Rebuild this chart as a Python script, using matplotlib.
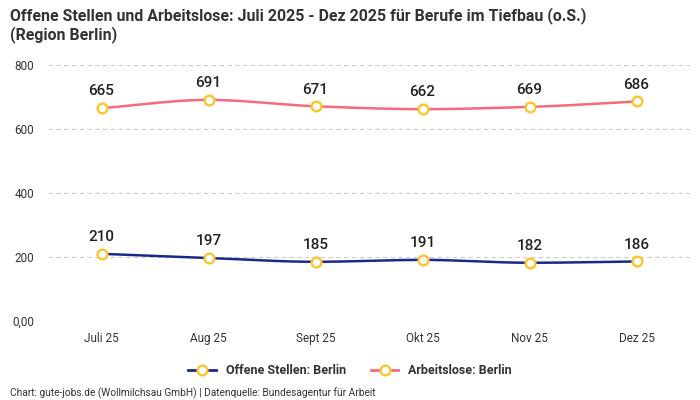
import numpy as np
import matplotlib
matplotlib.use("Agg")
import matplotlib.pyplot as plt
from matplotlib.lines import Line2D

plt.rcParams['font.family'] = ['Roboto', 'DejaVu Sans']

months = ["Juli 25", "Aug 25", "Sept 25", "Okt 25", "Nov 25", "Dez 25"]
offene_stellen = [210, 197, 185, 191, 182, 186]
arbeitslose = [665, 691, 671, 662, 669, 686]

blue = "#1b2a8a"
pink = "#f7697f"
marker_edge = "#fbc52c"


def smooth(xs, ys, n=30):
    # monotone cubic (Fritsch-Carlson) for the drawn curve
    xs = np.asarray(xs, float)
    ys = np.asarray(ys, float)
    h = np.diff(xs)
    d = np.diff(ys) / h
    m = np.zeros_like(ys)
    m[0], m[-1] = d[0], d[-1]
    for i in range(1, len(ys) - 1):
        if d[i - 1] * d[i] <= 0:
            m[i] = 0
        else:
            m[i] = 2 / (1 / d[i - 1] + 1 / d[i])
    out_x, out_y = [], []
    for i in range(len(xs) - 1):
        t = np.linspace(0, 1, n)
        h00 = 2 * t**3 - 3 * t**2 + 1
        h10 = t**3 - 2 * t**2 + t
        h01 = -2 * t**3 + 3 * t**2
        h11 = t**3 - t**2
        out_x.extend(xs[i] + t * h[i])
        out_y.extend(h00 * ys[i] + h10 * h[i] * m[i] + h01 * ys[i + 1] + h11 * h[i] * m[i + 1])
    return out_x, out_y


fig = plt.figure(figsize=(7, 4), dpi=100)
ax = fig.add_axes([48 / 700, 1 - 321 / 400, 642 / 700, 256 / 400])

x = np.arange(len(months))
for values, color in [(offene_stellen, blue), (arbeitslose, pink)]:
    sx, sy = smooth(x, values)
    ax.plot(sx, sy, color=color, lw=1.8, zorder=2)
    ax.plot(x, values, ls="none", marker="o", ms=7, mfc="white",
            mec=marker_edge, mew=1.7, zorder=3)
    for xi, v in zip(x, values):
        ax.annotate(str(v), (xi, v), xytext=(0, 7), textcoords="offset points",
                    ha="center", va="bottom", fontsize=11, fontweight="medium",
                    color="#222222")

ax.set_xlim(-0.5, len(months) - 0.5)
ax.set_ylim(0, 800)
ax.set_yticks([0, 200, 400, 600, 800])
ax.set_yticklabels(["0,00", "200", "400", "600", "800"])
ax.set_xticks(x)
ax.set_xticklabels(months)
ax.tick_params(length=0, labelsize=8.5, colors="#333333")
ax.tick_params(axis="x", pad=8)
ax.tick_params(axis="y", pad=10)
ax.grid(axis="y", color="#cccccc", ls=(0, (4, 3)), lw=0.8)
for s in ax.spines.values():
    s.set_visible(False)

fig.text(10 / 700, 1 - 7 / 400,
         "Offene Stellen und Arbeitslose: Juli 2025 - Dez 2025 für Berufe im Tiefbau (o.S.)\n(Region Berlin)",
         ha="left", va="top", fontsize=11.4, fontweight="bold", color="#333333", linespacing=1.2)

handles = [
    Line2D([], [], color=blue, lw=2, marker="o", ms=7, mfc="white", mec=marker_edge, mew=1.7),
    Line2D([], [], color=pink, lw=2, marker="o", ms=7, mfc="white", mec=marker_edge, mew=1.7),
]
fig.legend(handles, ["Offene Stellen: Berlin", "Arbeitslose: Berlin"],
           loc="center", bbox_to_anchor=(0.5, 1 - 371 / 400), ncol=2, frameon=False,
           prop={"size": 9, "weight": "bold"}, handlelength=2.2, columnspacing=2,
           labelcolor="#333333")

fig.text(10 / 700, 1 - 393 / 400,
         "Chart: gute-jobs.de (Wollmilchsau GmbH) | Datenquelle: Bundesagentur für Arbeit",
         ha="left", va="center", fontsize=7.3, color="#333333")

fig.savefig("out.png", dpi=100)
